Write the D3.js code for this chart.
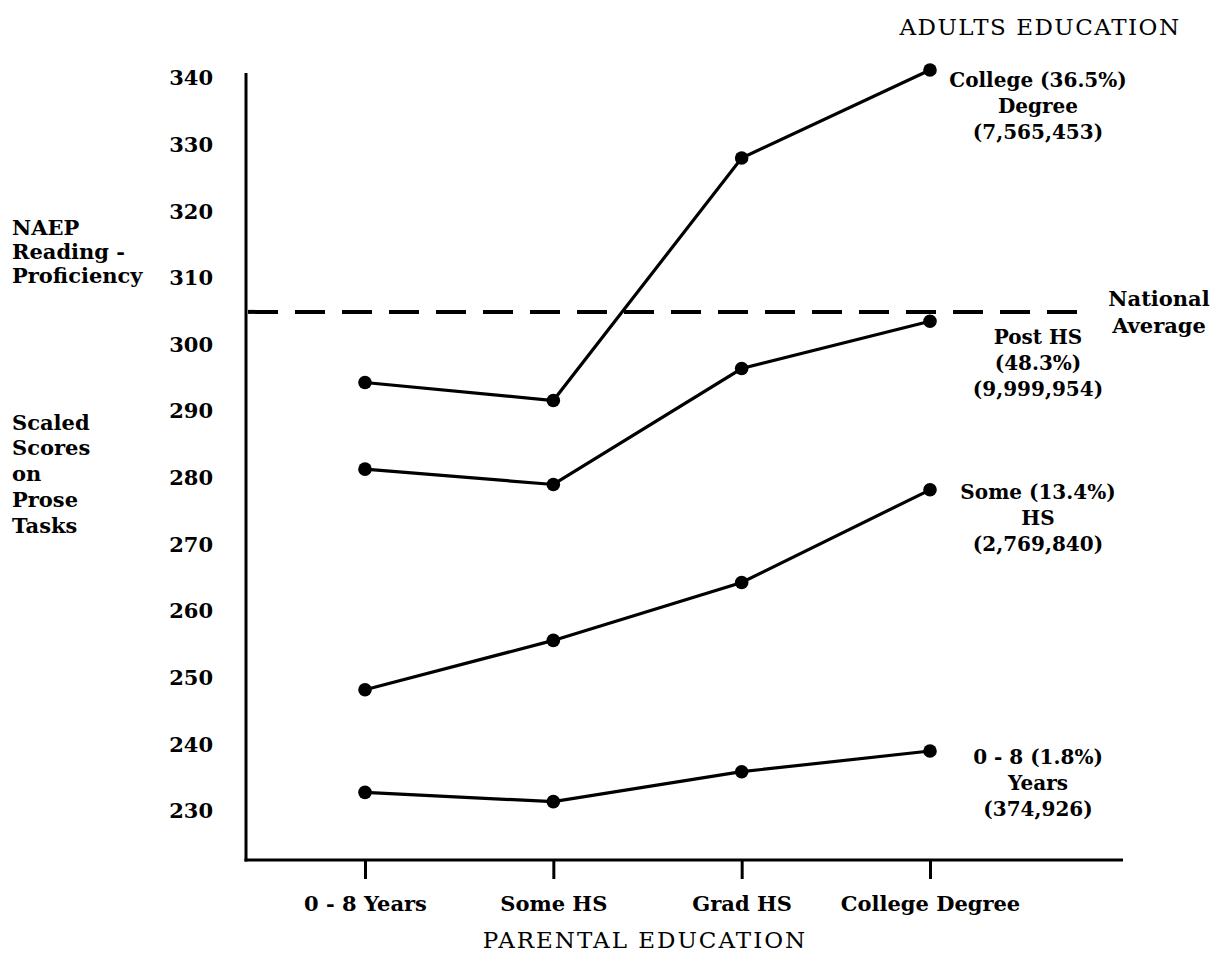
<!DOCTYPE html>
<html>
<head>
<meta charset="utf-8">
<script src="https://cdn.jsdelivr.net/npm/d3@7"></script>
<style>
  html, body { margin: 0; padding: 0; background: #fff; }
  svg { display: block; }
  text { font-family: "DejaVu Serif", "Liberation Serif", serif; fill: #000; }
</style>
</head>
<body>
<svg id="chart" width="1215" height="957"></svg>
<script>
// ---- data ----
const categories = ["0 - 8 Years", "Some HS", "Grad HS", "College Degree"];
const seriesNames = ["College Degree", "Post HS", "Some HS", "0 - 8 Years"];
const collegeScores = [294.3, 291.6, 328.0, 341.2];
const postHSScores = [281.3, 279.0, 296.4, 303.5];
const someHSScores = [248.2, 255.6, 264.3, 278.2];
const zeroEightScores = [232.8, 231.4, 235.9, 239.0];
const nationalAverage = 304.9;
const yTicks = [230, 240, 250, 260, 270, 280, 290, 300, 310, 320, 330, 340];
const seriesLabels = [
  ["College (36.5%)", "Degree", "(7,565,453)"],
  ["Post HS", "(48.3%)", "(9,999,954)"],
  ["Some (13.4%)", "HS", "(2,769,840)"],
  ["0 - 8 (1.8%)", "Years", "(374,926)"]
];
const yTitleTop = ["NAEP", "Reading -", "Proficiency"];
const yTitleBottom = ["Scaled", "Scores", "on", "Prose", "Tasks"];
const xTitle = "PARENTAL EDUCATION";
const legendTitle = "ADULTS EDUCATION";
const avgLabel = ["National", "Average"];

// ---- layout ----
const labelOffsets = [10, 16, 2, 6];   // first label line relative to last point
const lineGap = 26;

const svg = d3.select("#chart");
const allSeries = [collegeScores, postHSScores, someHSScores, zeroEightScores];

const x = d3.scalePoint().domain(categories).range([365, 930]);
const y = d3.scaleLinear().domain([230, 340]).range([811, 78]);

const axisX0 = 246, axisY0 = 860;

// axis lines
svg.append("line").attr("x1", axisX0).attr("x2", axisX0).attr("y1", 73).attr("y2", axisY0 + 1.5)
  .attr("stroke", "#000").attr("stroke-width", 3);
svg.append("line").attr("x1", axisX0 - 1.5).attr("x2", 1123).attr("y1", axisY0).attr("y2", axisY0)
  .attr("stroke", "#000").attr("stroke-width", 3);

// y axis labels
const yAxis = svg.append("g").attr("transform", `translate(${axisX0},0)`)
  .call(d3.axisLeft(y).tickValues(yTicks).tickSize(0).tickPadding(33).tickFormat(d3.format("d")));
yAxis.select(".domain").remove();
yAxis.selectAll("text").attr("font-size", 21).attr("font-weight", "bold")
  .attr("font-family", "DejaVu Serif").attr("fill", "#000");

// x axis
const xAxis = svg.append("g").attr("transform", `translate(0,${axisY0})`)
  .call(d3.axisBottom(x).tickSize(19).tickPadding(17));
xAxis.select(".domain").remove();
xAxis.selectAll(".tick line").attr("stroke", "#000").attr("stroke-width", 3);
xAxis.selectAll("text").attr("font-size", 21).attr("font-weight", "bold")
  .attr("font-family", "DejaVu Serif").attr("fill", "#000");

// national average dashed line
svg.append("line").attr("x1", axisX0 + 2).attr("x2", 1080)
  .attr("y1", y(nationalAverage)).attr("y2", y(nationalAverage))
  .attr("stroke", "#000").attr("stroke-width", 4).attr("stroke-dasharray", "30,17");

// series
const line = d3.line().x((d, i) => x(categories[i])).y(d => y(d));
allSeries.forEach((vals, si) => {
  svg.append("path").datum(vals).attr("d", line)
    .attr("fill", "none").attr("stroke", "#000").attr("stroke-width", 3.2);
  svg.selectAll(null).data(vals).enter().append("circle")
    .attr("cx", (d, i) => x(categories[i])).attr("cy", d => y(d))
    .attr("r", 6.8).attr("fill", "#000");
  const lastY = y(vals[vals.length - 1]) + labelOffsets[si];
  const t = svg.append("text").attr("text-anchor", "middle")
    .attr("font-size", 20).attr("font-weight", "bold");
  seriesLabels[si].forEach((s, li) => {
    t.append("tspan").attr("x", 1038).attr("y", lastY + li * lineGap).attr("dy", "0.36em").text(s);
  });
});

// national average label
const na = svg.append("text").attr("text-anchor", "middle").attr("font-size", 21).attr("font-weight", "bold");
avgLabel.forEach((s, i) => na.append("tspan").attr("x", 1159).attr("y", 298 + i * 27).attr("dy", "0.36em").text(s));

// y titles
const t1 = svg.append("text").attr("font-size", 21).attr("font-weight", "bold");
yTitleTop.forEach((s, i) => t1.append("tspan").attr("x", 12).attr("y", 227 + i * 24).attr("dy", "0.36em").text(s));
const t2 = svg.append("text").attr("font-size", 21).attr("font-weight", "bold");
yTitleBottom.forEach((s, i) => t2.append("tspan").attr("x", 12).attr("y", 422 + i * 25.8).attr("dy", "0.36em").text(s));

// titles
svg.append("text").attr("x", 1040).attr("y", 27).attr("dy", "0.36em").attr("text-anchor", "middle")
  .attr("font-size", 23).attr("letter-spacing", 1.5).text(legendTitle);
svg.append("text").attr("x", 645).attr("y", 940).attr("dy", "0.36em").attr("text-anchor", "middle")
  .attr("font-size", 23).attr("letter-spacing", 2).text(xTitle);
</script>
</body>
</html>
